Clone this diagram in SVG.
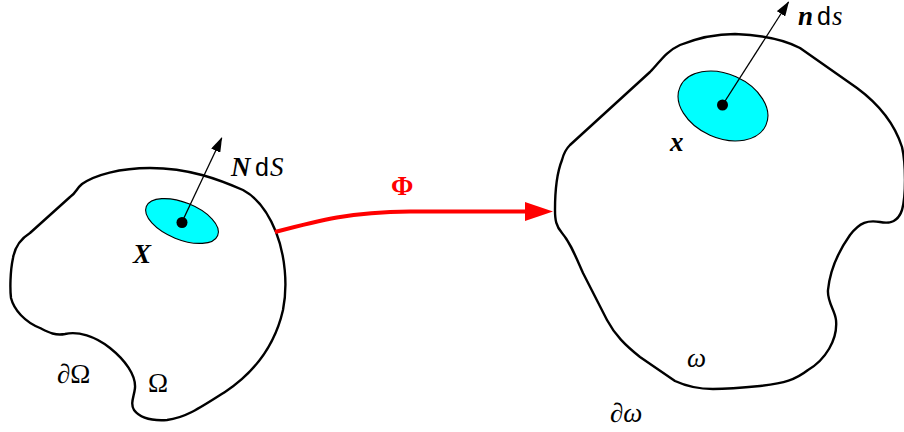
<svg xmlns="http://www.w3.org/2000/svg" width="904" height="432" viewBox="0 0 904 432">
<style>
.outline{fill:none;stroke:#000;stroke-width:2.4;stroke-linejoin:round}
.patch{fill:#00ffff;stroke:#000;stroke-width:1.1}
.normal{stroke:#000;stroke-width:1.3;fill:none}
.dot{fill:#000}
.map{fill:none;stroke:#ff0000;stroke-width:4}
.serif{font-family:"Liberation Serif","DejaVu Serif",serif;font-size:27px}
.bi{font-weight:bold;font-style:italic}
.it{font-style:italic}
.sans{font-family:"Liberation Sans","DejaVu Sans",sans-serif;font-size:25px}
</style>
<defs>
<marker id="ah" viewBox="0 0 15 10" refX="14" refY="5" markerWidth="15" markerHeight="10" markerUnits="userSpaceOnUse" orient="auto">
<path d="M0,0 L15,5 L0,10 Z" fill="#000"/>
</marker>
<marker id="ahred" viewBox="0 0 28 19" refX="1" refY="9.5" markerWidth="28" markerHeight="19" markerUnits="userSpaceOnUse" orient="auto">
<path d="M0,0 L28,9.5 L0,19 Z" fill="#ff0000"/>
</marker>
</defs>
<rect width="904" height="432" fill="#fff"/>

<g id="reference-domain">
<path class="outline" d="M30,233 C22,238 15,246 13,258 C10,272 10,290 11,298 C14,310 25,322 40,328 C48,332 55,336 65,334 C78,331 95,336 110,348 C125,360 136,375 135,388 C134,397 130,403 134,410 C140,418 152,421 167,420 C185,418 200,408 225,392 C255,372 275,345 283,310 C288,285 285,255 276,232 C268,212 258,198 243,190 C220,180 190,168 150,168 C120,168 95,175 82,184 C76,189 77,192 70,197 L30,233 Z"/>
<ellipse class="patch" cx="182" cy="221" rx="38.5" ry="18.5" transform="rotate(22 182 221)"/>
<line class="normal" x1="182" y1="222" x2="221.7" y2="138" marker-end="url(#ah)"/>
<circle class="dot" cx="182" cy="222.5" r="5.5"/>
<text class="serif" y="176"><tspan class="bi" x="231">N</tspan><tspan class="sans" x="255">d</tspan><tspan class="it" x="270">S</tspan></text>
<text class="serif bi" x="133" y="263" font-size="28">X</text>
<text class="serif" x="57" y="383">∂Ω</text>
<text class="serif" x="148" y="392">Ω</text>
</g>

<g id="current-domain">
<path class="outline" d="M570,145 L650,72 C660,62 665,52 680,45 C700,37 720,34 735,34 C760,35 785,40 800,48 L857,88 C880,105 895,125 902,147 C906,165 906,195 902,210 C898,222 890,224 880,222 C868,220 860,222 850,235 C838,252 830,270 828,290 C827,302 835,310 836,320 C838,340 825,360 808,370 C795,380 785,383 760,386 C740,388 725,389 713,389 C700,389 688,387 675,381 L640,357 C625,345 615,335 607,320 L583,273 C575,255 570,242 562,233 C556,226 555,220 555,210 C555,190 558,170 562,160 C564,152 566,149 570,145 Z"/>
<ellipse class="patch" cx="723" cy="106" rx="47" ry="32" transform="rotate(24 723 106)"/>
<line class="normal" x1="722.5" y1="105" x2="788.5" y2="2" marker-end="url(#ah)"/>
<circle class="dot" cx="722.5" cy="105" r="5.5"/>
<text class="serif" y="25"><tspan class="bi" x="798">n</tspan><tspan class="sans" x="817">d</tspan><tspan class="it" x="832">s</tspan></text>
<text class="serif bi" x="670" y="151" font-size="28">x</text>
<text class="serif it" x="687" y="367">ω</text>
<text class="serif" x="610" y="422">∂<tspan class="it">ω</tspan></text>
</g>

<g id="connectors">
<path class="map" d="M275,232 C320,220 350,212 410,211.5 L526,211.5" marker-end="url(#ahred)"/>
<text class="serif" x="391" y="195" font-size="27" font-weight="bold" fill="#ff0000">Φ</text>
</g>
</svg>
